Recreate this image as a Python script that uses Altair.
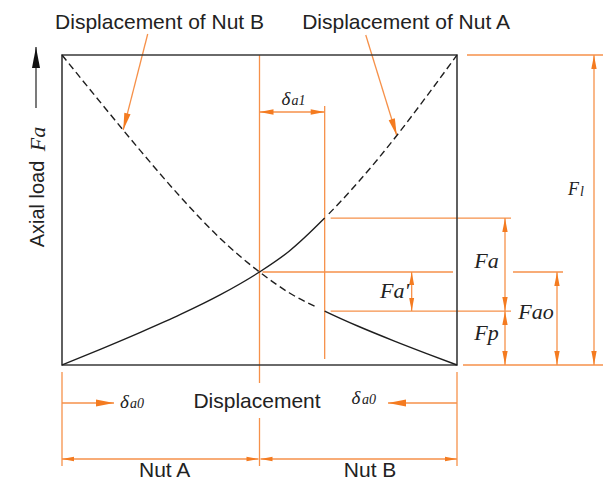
import math

import altair as alt
import numpy as np
import pandas as pd

# Load-displacement curves of the two preloaded nuts (displacement units, load in % of F_l)
DISPLACEMENT = [0, 2, 4, 6, 8, 10, 11.5, 13.3, 15, 16.8, 18.5, 20]
NUT_A_LOAD = [0, 5.2, 10.6, 16.3, 22.6, 30.0, 36.7, 47.4, 59.0, 72.8, 87.0, 100]
NUT_B_LOAD = [100, 84.3, 68.9, 54.2, 40.9, 30.0, 23.3, 17.4, 12.5, 7.8, 3.6, 0]

# Characteristic values of the preloaded pair
DELTA_A0 = 10.0   # preload displacement of each nut
DELTA_A1 = 3.3    # additional displacement under the axial load
F_L = 100.0       # limit load
F_A0 = 30.0       # preload
F_P = 17.4        # load left on nut B
F_A = 30.0        # external axial load

# Where the pointers from the top captions start and touch the curves
POINTER_B_X = [4.34, 3.1]
POINTER_A_X = [15.38, 16.95]

TITLE_B = "Displacement of Nut B"
TITLE_A = "Displacement of Nut A"
X_TITLE = "Displacement"
Y_TITLE = "Axial load"
NUT_LABELS = ["Nut A", "Nut B"]

# ---- canvas frame -------------------------------------------------------
W, H = 616, 482
PX_X, PX_Y = 19.75, 3.1          # pixels per displacement unit / load unit
ORIGIN_LEFT, ORIGIN_BASE = 62, 365

X_DOMAIN = [-ORIGIN_LEFT / PX_X, (W - ORIGIN_LEFT) / PX_X]
Y_DOMAIN = [-(H - ORIGIN_BASE) / PX_Y, ORIGIN_BASE / PX_Y]


def ox(p):
    return p / PX_X


def oy(p):
    return p / PX_Y


X_MID = DELTA_A0
X_A1 = DELTA_A0 + DELTA_A1
X_END = 2 * DELTA_A0
F_TOP = F_P + F_A

ORANGE_LINE = "#F6914A"
ORANGE_HEAD = "#F47B20"
INK = "#222222"
SANS = "Liberation Sans"
SERIF = "Liberation Serif"
ARROW = "M0,0L0.38,2L-0.38,2Z"
DASH, GAP = 7, 4

xs = alt.Scale(domain=X_DOMAIN, nice=False, zero=False)
ys = alt.Scale(domain=Y_DOMAIN, nice=False, zero=False)


def enc_xy():
    return dict(x=alt.X("x:Q", scale=xs, axis=None), y=alt.Y("y:Q", scale=ys, axis=None))


def screen_angle(x0, y0, x1, y1):
    dxp = (x1 - x0) * PX_X
    dyp = -(y1 - y0) * PX_Y
    return math.degrees(math.atan2(dxp, -dyp)) % 360


def screen_length(xv, yv):
    return sum(
        math.hypot((xv[i + 1] - xv[i]) * PX_X, (yv[i + 1] - yv[i]) * PX_Y)
        for i in range(len(xv) - 1)
    )


# ---- curves: one continuous path per nut, solid / dashed by dash array --
split = DISPLACEMENT.index(X_A1)
len_a_solid = screen_length(DISPLACEMENT[: split + 1], NUT_A_LOAD[: split + 1])
len_a_total = screen_length(DISPLACEMENT, NUT_A_LOAD)
n_a = int((len_a_total - len_a_solid) // (DASH + GAP)) + 3
dash_a = [len_a_solid, GAP + 2] + [DASH, GAP] * n_a

len_b_dashed = screen_length(DISPLACEMENT[: split + 1], NUT_B_LOAD[: split + 1])
len_b_total = screen_length(DISPLACEMENT, NUT_B_LOAD)
k_b = int((len_b_dashed - DASH - 2) // (DASH + GAP)) + 1
last_gap = len_b_dashed - (DASH + GAP) * (k_b - 1) - DASH
dash_b = [DASH, GAP] * (k_b - 1) + [DASH, last_gap] + [len_b_total + 50, 1]

curve_a = alt.Chart(pd.DataFrame({"x": DISPLACEMENT, "y": NUT_A_LOAD})).mark_line(
    interpolate="monotone", color="#1e1e1e", strokeWidth=1.4, strokeDash=dash_a
).encode(**enc_xy(), order="x:Q")

curve_b = alt.Chart(pd.DataFrame({"x": DISPLACEMENT, "y": NUT_B_LOAD})).mark_line(
    interpolate="monotone", color="#1e1e1e", strokeWidth=1.4, strokeDash=dash_b
).encode(**enc_xy(), order="x:Q")

# ---- frame --------------------------------------------------------------
frame = alt.Chart(pd.DataFrame([dict(x=0, x2=X_END, y=0, y2=F_L)])).mark_rect(
    fillOpacity=0, stroke="#3a3a3a", strokeWidth=1.6
).encode(**enc_xy(), x2="x2:Q", y2="y2:Q")

# ---- orange construction lines -----------------------------------------
yd1 = F_L - oy(57)
yd0 = -oy(38)
ynut = -oy(94)
b_tip = (POINTER_B_X[1], float(np.interp(POINTER_B_X[1], DISPLACEMENT, NUT_B_LOAD)))
a_tip = (POINTER_A_X[1], float(np.interp(POINTER_A_X[1], DISPLACEMENT, NUT_A_LOAD)))
b_start = (POINTER_B_X[0], F_L + oy(21))
a_start = (POINTER_A_X[0], F_L + oy(20))

segments = [
    (X_MID, F_L, X_MID, -oy(18)),
    (X_MID, -oy(53), X_MID, -oy(101)),
    (X_A1, F_L - oy(51), X_A1, oy(6)),
    (X_MID, yd1, X_A1, yd1),
    (X_A1 + ox(6), F_TOP, X_END + ox(54), F_TOP),
    (X_A1 + ox(6), F_P, X_END + ox(54), F_P),
    (X_MID + ox(3), F_A0, X_END - ox(4), F_A0),
    (X_END + ox(56), F_A0, X_END + ox(106), F_A0),
    (X_END + ox(6), 0, X_END + ox(146), 0),
    (X_END + ox(10), F_L, X_END + ox(146), F_L),
    (X_END + ox(48), F_P, X_END + ox(48), F_TOP),
    (X_END + ox(48), 0, X_END + ox(48), F_P),
    (X_END + ox(100), 0, X_END + ox(100), F_A0),
    (X_END + ox(137), 0, X_END + ox(137), F_L),
    (X_A1 + ox(87), F_P, X_A1 + ox(87), F_A0),
    (0, -oy(7), 0, -oy(101)),
    (X_END, -oy(7), X_END, -oy(101)),
    (0, yd0, ox(52), yd0),
    (X_END, yd0, X_END - ox(69), yd0),
    (0, ynut, X_MID - ox(1), ynut),
    (X_MID + ox(1), ynut, X_END, ynut),
    (*b_start, *b_tip),
    (*a_start, *a_tip),
]
seg_df = pd.DataFrame(segments, columns=["x", "y", "x2", "y2"])
orange_rules = alt.Chart(seg_df).mark_rule(color=ORANGE_LINE, strokeWidth=1.3).encode(
    **enc_xy(), x2="x2:Q", y2="y2:Q"
)

# load axis arrow
y_arrow_x = -ox(26)
axis_rule = alt.Chart(pd.DataFrame([dict(x=y_arrow_x, y=F_L - oy(53), y2=F_L + oy(8))])).mark_rule(
    color="#222222", strokeWidth=1.2
).encode(**enc_xy(), y2="y2:Q")

# ---- arrowheads ---------------------------------------------------------
UP, RIGHT, DOWN, LEFT = 0, 90, 180, 270
heads = [
    (X_MID, yd1, LEFT, 196, ORANGE_HEAD),
    (X_A1, yd1, RIGHT, 196, ORANGE_HEAD),
    (X_END + ox(48), F_TOP, UP, 196, ORANGE_HEAD),
    (X_END + ox(48), F_P, DOWN, 196, ORANGE_HEAD),
    (X_END + ox(48), F_P, UP, 196, ORANGE_HEAD),
    (X_END + ox(48), 0, DOWN, 196, ORANGE_HEAD),
    (X_END + ox(100), F_A0, UP, 196, ORANGE_HEAD),
    (X_END + ox(100), 0, DOWN, 196, ORANGE_HEAD),
    (X_END + ox(137), F_L, UP, 196, ORANGE_HEAD),
    (X_END + ox(137), 0, DOWN, 196, ORANGE_HEAD),
    (X_A1 + ox(87), F_A0, UP, 169, ORANGE_HEAD),
    (X_A1 + ox(87), F_P, DOWN, 169, ORANGE_HEAD),
    (ox(52), yd0, RIGHT, 324, ORANGE_HEAD),
    (X_END - ox(69), yd0, LEFT, 324, ORANGE_HEAD),
    (0, ynut, LEFT, 144, ORANGE_HEAD),
    (X_MID - ox(1), ynut, RIGHT, 144, ORANGE_HEAD),
    (X_MID + ox(1), ynut, LEFT, 144, ORANGE_HEAD),
    (X_END, ynut, RIGHT, 144, ORANGE_HEAD),
    (*b_tip, screen_angle(*b_start, *b_tip), 289, ORANGE_HEAD),
    (*a_tip, screen_angle(*a_start, *a_tip), 289, ORANGE_HEAD),
    (y_arrow_x, F_L + oy(8), UP, 441, "#111111"),
]
head_df = pd.DataFrame(heads, columns=["x", "y", "angle", "size", "color"])
arrowheads = alt.Chart(head_df).mark_point(
    shape=ARROW, filled=True, opacity=1, strokeWidth=0
).encode(
    **enc_xy(),
    angle=alt.Angle("angle:Q", scale=None),
    size=alt.Size("size:Q", scale=None),
    color=alt.Color("color:N", scale=None),
)

# ---- text ---------------------------------------------------------------
sans_df = pd.DataFrame([
    dict(x=4.94, y=F_L + oy(26.5), text=TITLE_B),
    dict(x=17.42, y=F_L + oy(26.5), text=TITLE_A),
    dict(x=X_MID - ox(2.5), y=-oy(43.3), text=X_TITLE),
    dict(x=5.2, y=-oy(112), text=NUT_LABELS[0]),
    dict(x=15.6, y=-oy(112), text=NUT_LABELS[1]),
])
sans_text = alt.Chart(sans_df).mark_text(
    font=SANS, fontSize=21, color=INK, align="center", baseline="alphabetic"
).encode(**enc_xy(), text="text:N")

load_df = pd.DataFrame([
    dict(x=X_A1 + ox(70), y=F_P + oy(13.4), text="Fa'"),
    dict(x=X_END + ox(29.5), y=F_P + F_A / 2 - oy(3), text="Fa"),
    dict(x=X_END + ox(29.5), y=F_P / 2 - oy(1.8), text="Fp"),
    dict(x=X_END + ox(79), y=F_A0 / 2 - oy(0.8), text="Fao"),
])
load_text = alt.Chart(load_df).mark_text(
    font=SERIF, fontStyle="italic", fontSize=22, color=INK, align="center", baseline="alphabetic"
).encode(**enc_xy(), text="text:N")

sym_df = pd.DataFrame([
    dict(x=X_MID + ox(22), y=F_L - oy(50), text="δ", size=19),
    dict(x=X_MID + ox(32), y=F_L - oy(50), text="a1", size=14),
    dict(x=ox(58), y=-oy(43), text="δ", size=19),
    dict(x=ox(68), y=-oy(43), text="a0", size=14),
    dict(x=X_END - ox(105.5), y=-oy(39), text="δ", size=19),
    dict(x=X_END - ox(95), y=-oy(39), text="a0", size=14),
    dict(x=X_END + ox(111), y=F_L / 2 + oy(15), text="F", size=18),
    dict(x=X_END + ox(123), y=F_L / 2 + oy(14), text="l", size=14),
])
sym_text = alt.Chart(sym_df).mark_text(
    font=SERIF, fontStyle="italic", color=INK, align="left", baseline="alphabetic"
).encode(**enc_xy(), text="text:N", size=alt.Size("size:Q", scale=None))

y_title = alt.Chart(pd.DataFrame([dict(x=-ox(24), y=F_L / 2 + oy(6), text=Y_TITLE)])).mark_text(
    font=SANS, fontSize=20, color=INK, angle=270, align="center", baseline="middle"
).encode(**enc_xy(), text="text:N")

y_symbol = alt.Chart(pd.DataFrame([dict(x=-ox(24), y=F_L / 2 + oy(71), text="Fa")])).mark_text(
    font=SERIF, fontStyle="italic", fontSize=22, color=INK, angle=270, align="center", baseline="middle"
).encode(**enc_xy(), text="text:N")

chart = alt.layer(
    orange_rules,
    axis_rule,
    frame,
    curve_b,
    curve_a,
    arrowheads,
    sans_text,
    load_text,
    sym_text,
    y_title,
    y_symbol,
).properties(
    width=W,
    height=H,
    padding=0,
    autosize=alt.AutoSizeParams(type="none"),
    background="white",
).configure_view(stroke=None)

chart.save("out.html", embed_options={"renderer": "svg", "actions": False})
